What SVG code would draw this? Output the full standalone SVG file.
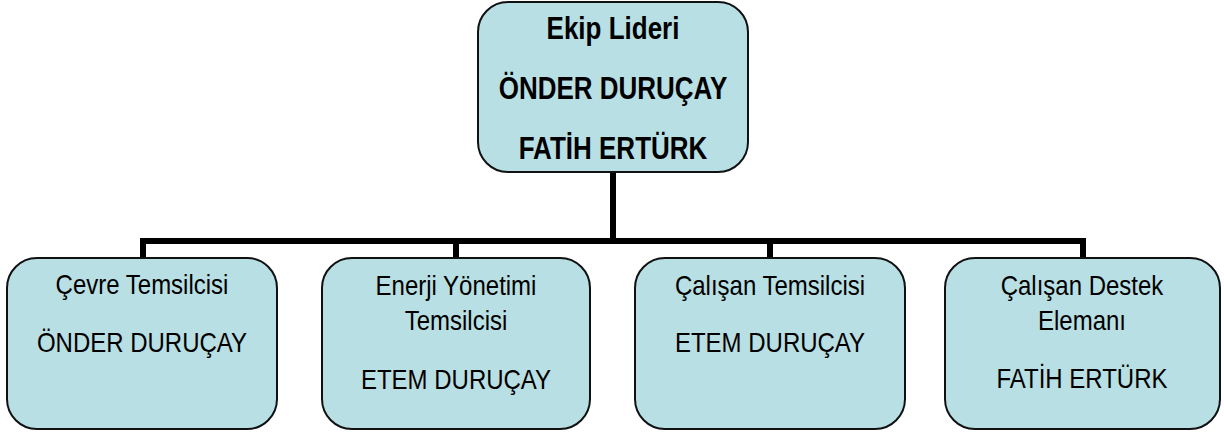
<svg xmlns="http://www.w3.org/2000/svg" width="1224" height="432" viewBox="0 0 1224 432">
<style>
.box{fill:#B8DFE3;stroke:#111;stroke-width:2}
.t{font-family:"Liberation Sans",Arial,sans-serif;font-size:24px;fill:#000;text-anchor:middle}
.b{font-weight:bold;font-size:26px}
.conn{fill:none;stroke:#000;stroke-width:6;stroke-linecap:square}
</style>
<rect width="1224" height="432" fill="#fff"/>
<g id="connectors">
<path class="conn" d="M613 173 V241 M143 241 H1083 M143 241 V257 M456 241 V257 M770 241 V257 M1083 241 V257"/>
</g>
<g id="lead">
<rect class="box" x="478" y="2" width="270" height="170" rx="30"/>
<text class="t b" transform="translate(613,39) scale(1,1.18)">Ekip Lideri</text>
<text class="t b" transform="translate(613,99) scale(1,1.18)">ÖNDER DURUÇAY</text>
<text class="t b" transform="translate(613,159) scale(1,1.18)">FATİH ERTÜRK</text>
</g>
<g id="n1">
<rect class="box" x="7" y="258" width="270" height="171" rx="30"/>
<text class="t" transform="translate(142,294) scale(1,1.18)">Çevre Temsilcisi</text>
<text class="t" transform="translate(142,352) scale(1,1.18)">ÖNDER DURUÇAY</text>
</g>
<g id="n2">
<rect class="box" x="322" y="258" width="268" height="171" rx="30"/>
<text class="t" transform="translate(456,295) scale(1,1.18)">Enerji Yönetimi</text>
<text class="t" transform="translate(456,330) scale(1,1.18)">Temsilcisi</text>
<text class="t" transform="translate(456,389) scale(1,1.18)">ETEM DURUÇAY</text>
</g>
<g id="n3">
<rect class="box" x="635" y="258" width="270" height="171" rx="30"/>
<text class="t" transform="translate(770,295) scale(1,1.18)">Çalışan Temsilcisi</text>
<text class="t" transform="translate(770,352) scale(1,1.18)">ETEM DURUÇAY</text>
</g>
<g id="n4">
<rect class="box" x="945" y="258" width="275" height="171" rx="30"/>
<text class="t" transform="translate(1082,295) scale(1,1.18)">Çalışan Destek</text>
<text class="t" transform="translate(1082,330) scale(1,1.18)">Elemanı</text>
<text class="t" transform="translate(1082,388) scale(1,1.18)">FATİH ERTÜRK</text>
</g>
</svg>
